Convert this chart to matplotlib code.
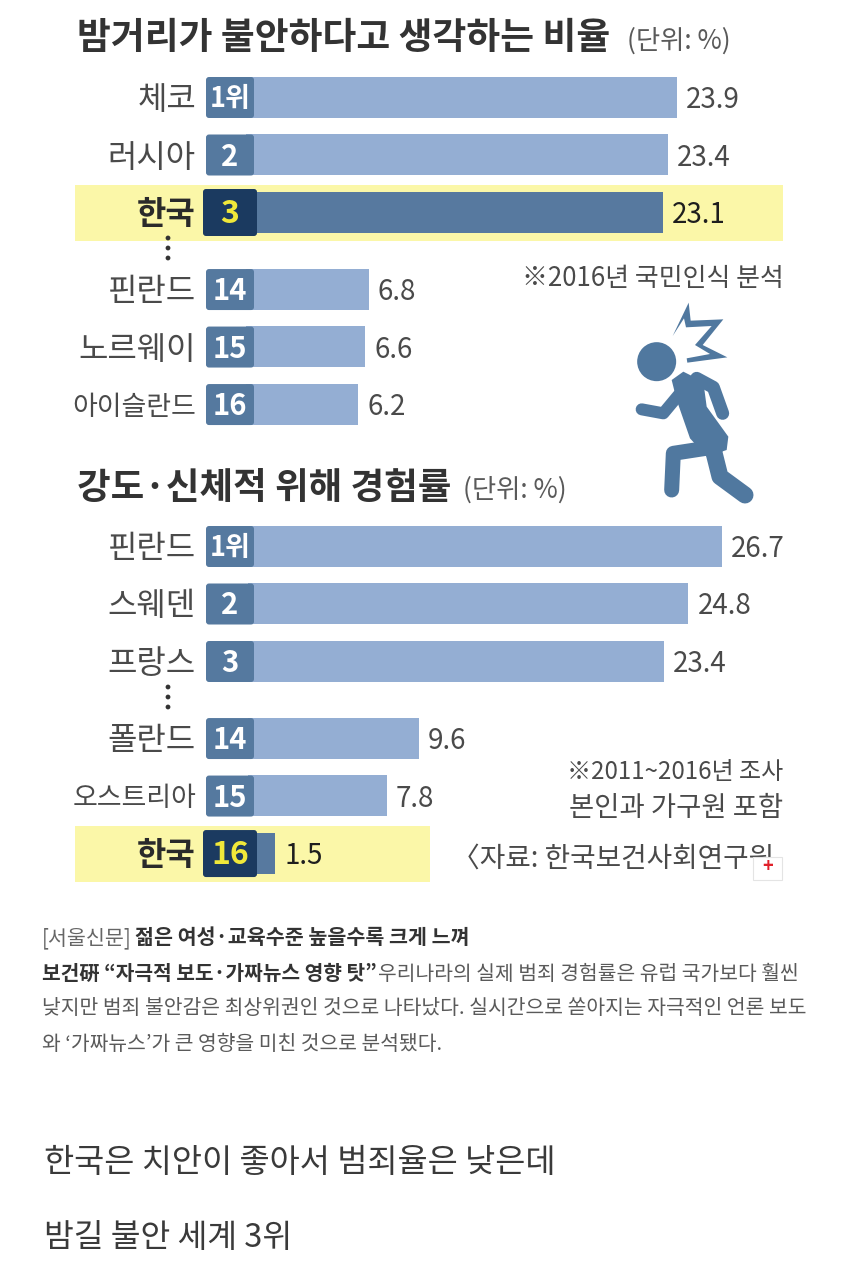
import matplotlib
matplotlib.use("Agg")
import matplotlib.pyplot as plt
from matplotlib.patches import Circle, FancyBboxPatch, Polygon, Rectangle

plt.rcParams['font.family'] = ['Noto Sans CJK KR', 'DejaVu Sans']

W, H = 850, 1261

# first chart
countries_a = ['체코', '러시아', '한국', '핀란드', '노르웨이', '아이슬란드']
ranks_a = ['1위', '2', '3', '14', '15', '16']
values_a = [23.9, 23.4, 23.1, 6.8, 6.6, 6.2]

# second chart
countries_b = ['핀란드', '스웨덴', '프랑스', '폴란드', '오스트리아', '한국']
ranks_b = ['1위', '2', '3', '14', '15', '16']
values_b = [26.7, 24.8, 23.4, 9.6, 7.8, 1.5]

rows = [0, 1, 2, 3.34, 4.34, 5.34]
ROW_PX = 57.5
TEXT_DY = 3  # glyphs sit a little high with va=center

BAR = '#94AED3'
BAR_KR = '#57799F'
BADGE = '#55799F'
BADGE_KR = '#1B3A60'
YELLOW = '#FBF7A8'
ICON = '#50789F'
TEXT = '#4A4A4A'
DARK = '#2A2A2A'

fig = plt.figure(figsize=(W / 100, H / 100), dpi=100, facecolor='white')


def px_axes(top, bottom, zorder=1):
    """Axes over the full width, placed by pixel rows."""
    ax = fig.add_axes([0, 1 - bottom / H, 1, (bottom - top) / H], zorder=zorder)
    ax.patch.set_alpha(0)
    ax.axis('off')
    return ax


page = px_axes(0, H, zorder=5)
page.set_xlim(0, W)
page.set_ylim(H, 0)


def fit(txt, width, only_shrink=False):
    """Scale a text so it spans the given width in pixels."""
    w = txt.get_window_extent(fig.canvas.get_renderer()).width
    if only_shrink and w <= width:
        return txt
    txt.set_fontsize(txt.get_fontsize() * width / w)
    return txt


def label(x, y, s, width=None, size=20, color=TEXT, weight='normal', ha='left'):
    t = page.text(x, y + TEXT_DY, s, fontsize=size, color=color, weight=weight, ha=ha, va='center')
    if width:
        fit(t, width)
    return t


def draw_chart(countries, ranks, values, y0, zero_px, scale, kr_band_right):
    ax = px_axes(y0 - 40, y0 + 350)
    ax.set_xlim(-zero_px / scale, (W - zero_px) / scale)
    ax.set_ylim(350 / ROW_PX, -40 / ROW_PX)
    for row, name, rank, val in zip(rows, countries, ranks, values):
        kr = name == '한국'
        yc = y0 + row * ROW_PX
        if kr:
            ax.add_patch(Rectangle(((75 - zero_px) / scale, row - 27 / ROW_PX),
                                   (kr_band_right - 75) / scale, 56 / ROW_PX,
                                   color=YELLOW, lw=0, zorder=0))
        ax.barh(row, val, height=41 / ROW_PX, color=BAR_KR if kr else BAR, zorder=2)
        # the value sits just past the end of the bar
        ax.annotate(f'{val:.1f}', (val, row), xytext=(6.5, -TEXT_DY * 0.72), textcoords='offset points',
                    ha='left', va='center', fontsize=20, color='#1E1E1E' if kr else TEXT, zorder=3)
        # rank badge covers the start of the bar
        pad = 3 if kr else 0
        page.add_patch(FancyBboxPatch((206 - pad + 3, yc - 20 - pad + 3), 42 + 2 * pad, 35 + 2 * pad,
                                      boxstyle='round,pad=3', color=BADGE_KR if kr else BADGE, lw=0))
        r = page.text(230, yc + 2, rank, ha='center', va='center', fontsize=23 if kr else 21,
                      color='#F0E83A' if kr else 'white', weight='bold')
        fit(r, 41, only_shrink=True)
        n = page.text(196, yc + TEXT_DY, name, ha='right', va='center', fontsize=23,
                      color=DARK if kr else TEXT, weight='bold' if kr else 'normal')
        fit(n, 124, only_shrink=True)
    return ax


draw_chart(countries_a, ranks_a, values_a, 97, 246.3, 18.02, 783)
draw_chart(countries_b, ranks_b, values_b, 546, 248.4, 17.74, 430)

# titles
label(77, 35, '밤거리가 불안하다고 생각하는 비율', width=533, size=26, color='#333333', weight='bold')
label(627, 38, '(단위: %)', width=104, size=18, color='#5A5A5A')
label(77, 486, '강도·신체적 위해 경험률', width=375, size=26, color='#333333', weight='bold')
label(463, 487, '(단위: %)', width=104, size=18, color='#5A5A5A')

# dots between the ranks
for yy in (238, 248, 258, 687, 697, 707):
    page.add_patch(Circle((168, yy), 2.4, color='#333333', lw=0))

# notes
label(522, 276, '※2016년 국민인식 분석', width=262, size=18)
label(783, 769, '※2011~2016년 조사', width=216, size=18, ha='right')
label(783, 805, '본인과 가구원 포함', width=214, size=18, ha='right')
label(452, 856, '〈자료: 한국보건사회연구원', width=323, size=18)
page.add_patch(Rectangle((753, 857), 29, 23, facecolor='white', edgecolor='#E4E4E4', lw=0.8, zorder=4))
page.text(767.5, 867, '+', color='#E0202A', fontsize=13, weight='bold', ha='center', va='center', zorder=5)

# running figure
zx = lambda p: [(450 + a / 3, 250 + b / 3) for a, b in p]
page.add_patch(Circle(zx([(620, 335)])[0], 19.5, color=ICON, lw=0))
burst = [(668, 258), (716, 158), (722, 212), (820, 208), (758, 285), (832, 322), (712, 338),
         (710, 325), (780, 312), (735, 285), (785, 228), (708, 232), (702, 205)]
page.add_patch(Polygon(zx(burst), closed=True, color=ICON, lw=0))
torso = [(665, 390), (700, 365), (760, 395), (770, 470), (835, 560), (830, 600), (770, 620),
         (720, 565), (680, 450)]
page.add_patch(Polygon(zx(torso), closed=True, color=ICON, lw=0))
limbs = [
    ([(740, 385), (790, 412), (818, 490)], 13),
    ([(690, 430), (640, 490), (575, 478)], 12),
    ([(800, 590), (670, 610), (665, 720)], 15),
    ([(790, 600), (810, 680), (885, 735)], 17),
]
for pts, lw in limbs:
    xs, ys = zip(*zx(pts))
    page.plot(xs, ys, color=ICON, lw=lw * 0.72, solid_capstyle='round', solid_joinstyle='round')

# article text
label(42, 935, '[서울신문]', width=90, size=14, color='#666666')
label(135, 935, '젊은 여성·교육수준 높을수록 크게 느껴', width=334, size=14, color='#333333', weight='bold')
label(42, 971, '보건硏 “자극적 보도·가짜뉴스 영향 탓”', width=335, size=14, color='#333333', weight='bold')
label(378, 971, '우리나라의 실제 범죄 경험률은 유럽 국가보다 훨씬', width=420, size=14, color='#5A5A5A')
label(42, 1006, '낮지만 범죄 불안감은 최상위권인 것으로 나타났다. 실시간으로 쏟아지는 자극적인 언론 보도',
      width=764, size=14, color='#5A5A5A')
label(42, 1041, '와 ‘가짜뉴스’가 큰 영향을 미친 것으로 분석됐다.', width=400, size=14, color='#5A5A5A')

# caption under the picture
label(44, 1160, '한국은 치안이 좋아서 범죄율은 낮은데', width=512, size=23, color='#3A3A3A', weight='light')
label(44, 1235, '밤길 불안 세계 3위', width=248, size=23, color='#3A3A3A', weight='light')

fig.savefig('out.png', dpi=100)
